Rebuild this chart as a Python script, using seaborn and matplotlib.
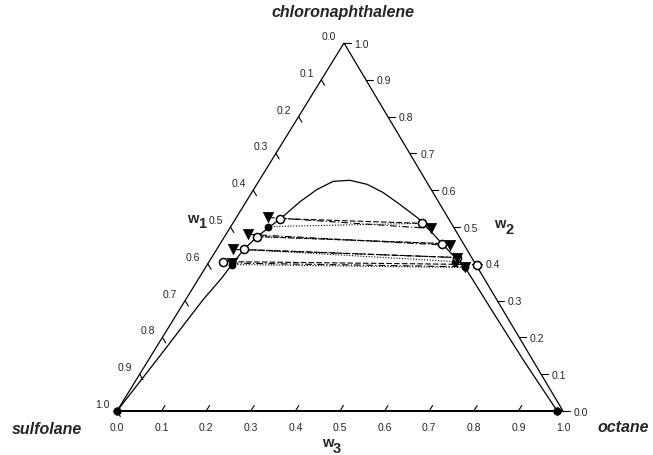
import numpy as np
import pandas as pd
import matplotlib
matplotlib.use("Agg")
import matplotlib.pyplot as plt
import seaborn as sns

# ---------------- data (mass fractions) ----------------
# w1 = sulfolane, w2 = chloronaphthalene, w3 = octane  (w1 = 1 - w2 - w3)
binodal_w2 = [0.000, 0.150, 0.302, 0.362, 0.398, 0.439, 0.474, 0.499, 0.526, 0.569,
              0.602, 0.624, 0.627, 0.616, 0.594, 0.561, 0.526, 0.512, 0.455, 0.417,
              0.390, 0.264, 0.139, 0.000]
binodal_w3 = [0.000, 0.020, 0.039, 0.051, 0.055, 0.061, 0.073, 0.087, 0.102, 0.121,
              0.142, 0.167, 0.203, 0.247, 0.294, 0.349, 0.405, 0.425, 0.497, 0.546,
              0.582, 0.711, 0.840, 0.987]

tie_ids = ["1", "2", "3", "4"]
# experimental tie lines
exp_left_w2 = [0.501, 0.474, 0.439, 0.398]
exp_left_w3 = [0.084, 0.073, 0.061, 0.055]
exp_right_w2 = [0.510, 0.455, 0.406, 0.390]
exp_right_w3 = [0.424, 0.497, 0.551, 0.582]
# model 1 tie lines
m1_left_w2 = [0.523, 0.474, 0.439, 0.406]
m1_left_w3 = [0.099, 0.073, 0.061, 0.031]
m1_right_w2 = [0.510, 0.455, 0.417, 0.398]
m1_right_w3 = [0.424, 0.497, 0.550, 0.605]
# model 2 tie lines
m2_left_w2 = [0.526, 0.480, 0.439, 0.402]
m2_left_w3 = [0.071, 0.050, 0.037, 0.053]
m2_right_w2 = [0.496, 0.450, 0.417, 0.392]
m2_right_w3 = [0.452, 0.518, 0.550, 0.581]
# binary points
binary_w2 = [0.000, 0.000]
binary_w3 = [0.000, 0.987]

tick_values = [0.0, 0.1, 0.2, 0.3, 0.4, 0.5, 0.6, 0.7, 0.8, 0.9, 1.0]
tick_labels = ["0.0", "0.1", "0.2", "0.3", "0.4", "0.5", "0.6", "0.7", "0.8", "0.9", "1.0"]

# ---------------- layout ----------------
W, H = 653, 456
APEX = 0.509          # horizontal position of the apex (fraction of base)
BL_X, BR_X = 117, 563  # pixel x of base ends
BASE_Y, TOP_Y = 412, 44

sns.set_theme(style="white")
plt.rcParams["font.family"] = ["Liberation Sans", "DejaVu Sans"]

fig = plt.figure(figsize=(W / 100, H / 100), dpi=100)
ax = fig.add_axes([BL_X / W, 1 - BASE_Y / H, (BR_X - BL_X) / W, (BASE_Y - TOP_Y) / H])
ax.set_xlim(0, 1)
ax.set_ylim(0, 1)
ax.axis("off")


def to_xy(w2, w3):
    w2 = np.asarray(w2, float)
    w3 = np.asarray(w3, float)
    return w3 + APEX * w2, w2


# triangle frame
ax.plot([0, 1], [0, 0], color="black", lw=1.4, clip_on=False, solid_capstyle="butt")
ax.plot([0, APEX, 1], [0, 1, 0], color="black", lw=0.9, clip_on=False)

# ticks
d = 0.015
for t, lab in zip(tick_values, tick_labels):
    # left axis (w1): point w2 = 1-t, w3 = 0
    x0, y0 = to_xy(1 - t, 0)
    x1, y1 = to_xy(1 - t - d, d)
    if t > 0:
        ax.plot([x0, x1], [y0, y1], color="black", lw=0.8, clip_on=False)
    ax.annotate(lab, (x0, y0), xytext=(-5.5, 5.0), textcoords="offset points",
                ha="right", va="center", fontsize=7.5, annotation_clip=False)
    # right axis (w2): point w2 = t, w3 = 1-t
    x0, y0 = to_xy(t, 1 - t)
    x1, y1 = to_xy(t, 1 - t + d)
    ax.plot([x0, x1], [y0, y1], color="black", lw=0.8, clip_on=False)
    ax.annotate(lab, (x0, y0), xytext=(7.5, -0.5), textcoords="offset points",
                ha="left", va="center", fontsize=7.5, annotation_clip=False)
    # bottom axis (w3): point w2 = 0, w3 = t
    x0, y0 = to_xy(0, t)
    x1, y1 = to_xy(d, t)
    if 0 < t < 1:
        ax.plot([x0, x1], [y0, y1], color="black", lw=0.8, clip_on=False)
    ax.annotate(lab, (x0, y0), xytext=(0, -11.5), textcoords="offset points",
                ha="center", va="center", fontsize=7.5, annotation_clip=False)

# binodal curve
bx, by = to_xy(binodal_w2, binodal_w3)
bin_df = pd.DataFrame({"x": bx, "y": by})
sns.lineplot(data=bin_df, x="x", y="y", sort=False, estimator=None, color="black",
             lw=0.9, ax=ax)


def tie_frame(lw2, lw3, rw2, rw3):
    rows = []
    for i, tid in enumerate(tie_ids):
        xl, yl = to_xy(lw2[i], lw3[i])
        xr, yr = to_xy(rw2[i], rw3[i])
        rows.append({"tie": tid, "x": float(xl), "y": float(yl)})
        rows.append({"tie": tid, "x": float(xr), "y": float(yr)})
    return pd.DataFrame(rows)


exp_df = tie_frame(exp_left_w2, exp_left_w3, exp_right_w2, exp_right_w3)
m1_df = tie_frame(m1_left_w2, m1_left_w3, m1_right_w2, m1_right_w3)
m2_df = tie_frame(m2_left_w2, m2_left_w3, m2_right_w2, m2_right_w3)

for df, ls in [(exp_df, (0, (1, 1.5))), (m1_df, (0, (5, 2))), (m2_df, (0, (6, 2, 1, 2)))]:
    for tid, g in df.groupby("tie"):
        sns.lineplot(data=g, x="x", y="y", sort=False, estimator=None, color="black",
                     lw=0.8, ax=ax, linestyle=ls)

# markers
sns.scatterplot(data=exp_df, x="x", y="y", marker="o", s=26, color="black",
                edgecolor="black", linewidth=0.5, ax=ax, zorder=4, clip_on=False)
sns.scatterplot(data=m1_df, x="x", y="y", marker="o", s=34, facecolor="white",
                edgecolor="black", linewidth=1.1, ax=ax, zorder=5, clip_on=False)
sns.scatterplot(data=m2_df, x="x", y="y", marker="v", s=55, color="black",
                edgecolor="black", linewidth=0.5, ax=ax, zorder=6, clip_on=False)
bxx, byy = to_xy(binary_w2, binary_w3)
sns.scatterplot(x=bxx, y=byy, marker="o", s=30, color="black", edgecolor="black",
                linewidth=0.5, ax=ax, zorder=6, clip_on=False)
ax.set_xlabel("")
ax.set_ylabel("")
if ax.get_legend() is not None:
    ax.get_legend().remove()


def ptext(x, y, s, **kw):
    fig.text(x / W, 1 - y / H, s, **kw)


# vertex names
vkw = dict(fontsize=11.5, fontweight="bold", fontstyle="italic", ha="center", va="center")
ptext(343, 13, "chloronaphthalene", **vkw)
ptext(47, 430, "sulfolane", **vkw)
ptext(623, 428, "octane", **vkw)

# axis titles  w1, w2, w3
akw = dict(fontsize=10.5, fontweight="bold", va="baseline")
ptext(187, 223, "w", ha="left", **akw)
ptext(198, 228, "1", ha="left", **akw)
ptext(494, 228, "w", ha="left", **akw)
ptext(505, 234, "2", ha="left", **akw)
ptext(322, 447, "w", ha="left", **akw)
ptext(333, 453, "3", ha="left", **akw)

fig.savefig("out.png", dpi=100)
